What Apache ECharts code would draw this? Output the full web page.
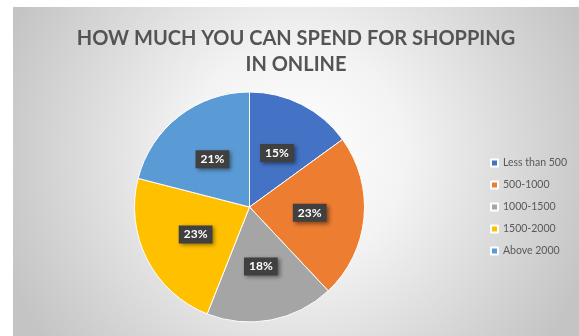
<!DOCTYPE html>
<html>
<head>
<meta charset="utf-8">
<script src="https://cdn.jsdelivr.net/npm/echarts@6/dist/echarts.min.js"></script>
<style>
  html, body { margin: 0; padding: 0; background: #ffffff; }
  body { width: 579px; height: 336px; position: relative; overflow: hidden; }
  #chart { position: absolute; left: 13px; top: 7px; width: 566px; height: 329px; }
</style>
</head>
<body>
<div id="chart"></div>
<script>
// Spending brackets and their share of respondents (%)
const categories = ['Less than 500', '500-1000', '1000-1500', '1500-2000', 'Above 2000'];
const shares = [15, 23, 18, 23, 21];
const sliceColors = ['#4472C4', '#ED7D31', '#A5A5A5', '#FFC000', '#5B9BD5'];
const titleText = 'HOW MUCH YOU CAN SPEND FOR SHOPPING\nIN ONLINE';

const chart = echarts.init(document.getElementById('chart'), null, { renderer: 'canvas' });

const pieData = categories.map((name, i) => ({
  name: name,
  value: shares[i],
  itemStyle: { color: sliceColors[i] }
}));

chart.setOption({
  animation: false,
  backgroundColor: new echarts.graphic.RadialGradient(0.5, 0.45, 0.95, [
    { offset: 0, color: '#ffffff' },
    { offset: 0.35, color: '#f3f3f3' },
    { offset: 1, color: '#c4c4c4' }
  ]),
  title: {
    text: titleText,
    left: 'center',
    top: 14,
    textStyle: {
      fontFamily: 'Lato',
      fontWeight: 'bold',
      fontSize: 20,
      lineHeight: 26,
      color: '#545454'
    }
  },
  legend: {
    orient: 'vertical',
    left: 477,
    top: 150,
    padding: 0,
    itemWidth: 7,
    itemHeight: 7,
    itemGap: 10,
    icon: 'rect',
    data: categories,
    textStyle: {
      fontFamily: 'Lato',
      fontSize: 10.5,
      lineHeight: 12,
      color: '#595959'
    }
  },
  series: [{
    type: 'pie',
    center: [236.5, 200],
    radius: [0, 115],
    startAngle: 90,
    clockwise: true,
    data: pieData,
    itemStyle: { borderColor: '#ffffff', borderWidth: 1 },
    emphasis: { disabled: true },
    label: {
      show: true,
      position: 'inside',
      formatter: '{c}%',
      color: '#ffffff',
      fontFamily: 'Lato',
      fontWeight: 'bold',
      fontSize: 12,
      backgroundColor: '#404040',
      padding: [3, 5, 3, 5],
      shadowColor: 'rgba(0,0,0,0.45)',
      shadowBlur: 4,
      shadowOffsetX: 2,
      shadowOffsetY: 2
    },
    labelLine: { show: false }
  }]
});
</script>
</body>
</html>
